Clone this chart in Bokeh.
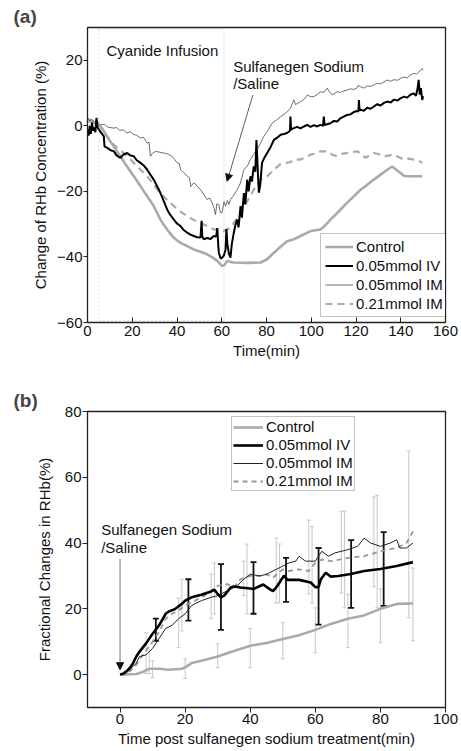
from bokeh.plotting import figure
from bokeh.models import (ColumnDataSource, Legend, LegendItem, Label, Arrow, NormalHead,
                          BoxAnnotation, Whisker, TeeHead, FixedTicker, Range1d, Title)
from bokeh.layouts import column
from bokeh.embed import file_html
from bokeh.resources import INLINE

FONT = "Liberation Sans"

# ---------------- Panel (a) data ----------------
ctrl_a_t = [0, 2, 4, 5.8, 7.2, 8.7, 10.2, 11.8, 13.2, 14.7, 16.2, 17.7, 19.2, 20.7, 22.2, 23.7, 25.2, 26.7,
            28.2, 29.6, 31.1, 32.6, 34.1, 35.6, 37.1, 38.6, 40.1, 41.6, 44.6, 47.5, 50.5, 53.5, 56, 58, 60.2,
            61.2, 62.4, 63.8, 65.4, 71.4, 77.3, 80.3, 83.3, 86.3, 89.2, 92.2, 95.2, 99.7, 104.1, 105.6, 108.6,
            110.1, 113, 116, 119, 122, 125, 128, 131, 134, 136.2, 138, 139.9, 141.4, 142.9, 146, 149.6]
ctrl_a_v = [1.5, 1.2, 0.6, -0.2, -1.5, -3.2, -4.8, -6.3, -7.8, -9.3, -10.9, -12.4, -13.9, -15.4, -16.9, -18.4,
            -20, -21.5, -23, -24.5, -26.5, -28.6, -30.2, -31.6, -33, -34.1, -35, -35.7, -36.7, -37.7, -38.4,
            -39.2, -40.2, -41.2, -42.8, -42.5, -41.2, -41.5, -41.7, -41.8, -41.7, -40.7, -38.7, -36.9, -35.2,
            -34.6, -33.6, -32.1, -31.6, -30.8, -28.6, -27.6, -25.6, -23.5, -21.5, -19.5, -18, -16.4, -14.9,
            -13.4, -12.4, -13.4, -14.4, -15.2, -15.4, -15.4, -15.4]

iv_a_t = [0, 0.5, 1, 1.5, 2, 2.5, 3, 3.5, 4, 4.5, 5, 6, 7.3, 7.6, 9, 10.5, 11.8, 13, 14.7, 16, 17.7, 19, 20.7,
          22, 23.7, 25, 26.7, 28, 29.6, 31, 32.6, 34, 35.6, 37, 38.6, 40, 41.6, 43, 44.6, 46, 47.5, 49, 50.5,
          51, 51.3, 52, 53.5, 55, 56.4, 57.5, 58, 58.5, 58.7, 59.5, 60.2, 61, 61.7, 62.1, 62.5, 63.2, 63.9,
          64.5, 65.4, 66, 66.9, 67.5, 68.4, 69, 69.9, 70.5, 71.4, 72, 72.8, 73.5, 74.3, 75, 75.5, 76.2, 76.6,
          77.2, 78, 79, 80.3, 81.8, 83.3, 84.8, 86.3, 87.8, 89.2, 90.5, 90.7, 91, 92.2, 93.7, 95.2, 96.7, 98.2,
          99.7, 101.2, 102.7, 104.1, 105.3, 105.6, 106, 107.1, 108.6, 110.1, 111.6, 113, 114.5, 116, 117.5,
          119, 120.5, 121.1, 121.3, 121.6, 122, 123.5, 125, 126.5, 128, 129.5, 131, 132.5, 134, 135.5, 137,
          138.5, 139.9, 141.4, 142.9, 144.3, 145.8, 146.8, 147.5, 148, 148.5, 149, 149.6, 150]
iv_a_v = [-1, -3, 0, -2.5, 1, -1.5, -0.5, -2, 2.4, -0.5, -1, -2, -3.2, -6.3, -6.8, -7.5, -7.8, -9, -9.8, -8.8,
          -8.3, -9, -9.3, -10.5, -11.3, -12, -13.4, -14.8, -16.4, -18.3, -20.5, -22.8, -25.5, -27.2, -28.6,
          -29.8, -30.6, -31.8, -32.6, -33.2, -33.6, -34, -34.1, -29, -33.8, -34.6, -34.2, -34.5, -33.6, -33.8,
          -31.2, -37, -38.7, -40.5, -40.2, -39.5, -37.7, -31.5, -36, -39, -40.2, -36, -32.6, -30.5, -28.6, -31,
          -24.5, -28, -20.5, -24, -16.4, -20, -15.4, -17, -12.4, -14, -4.3, -15, -20.4, -18, -11.3, -9.8, -8.3,
          -6.5, -4.3, -3.6, -2.7, -2.5, -2.2, -1.5, 2.8, -1.2, -0.7, -0.3, -0.8, -0.2, 0.3, -0.3, 0.2, -0.2,
          0.3, 0, 2.8, 0.2, 0.5, 0.8, 1.5, 1.3, 2.3, 2.8, 3.3, 3.5, 4.2, 4.5, 4.4, 7.9, 4.7, 4.9, 4.6, 5.5, 5.2,
          5.9, 6.6, 6.2, 7.0, 7.4, 7.1, 8.0, 7.7, 8.4, 8.9, 8.6, 9.5, 9.9, 9.2, 11.3, 14, 9.5, 11.5, 7.9, 9]

im_a_t = [0, 1, 2, 3, 4, 5.8, 7.5, 9, 11.8, 13, 14.5, 16, 17.7, 19, 20.5, 22, 23.7, 25, 26.7, 27.5, 28.1, 29,
          30.4, 32, 34.1, 36, 37.8, 39, 40.1, 41, 41.6, 43, 44.6, 45.5, 46.2, 47.5, 49, 50.5, 52, 53.5, 54.5,
          55.7, 56.5, 57.2, 57.8, 58.7, 59.4, 60.2, 61, 61.7, 62.5, 63.2, 63.9, 65, 66.9, 68.3, 69.9, 71.5,
          72.8, 74.2, 75.8, 77.3, 78.8, 80.5, 82.5, 84.5, 86.3, 88.5, 90.7, 92.2, 93, 95.2, 96.7, 98.2, 99.7,
          101.2, 102.7, 104.1, 105.6, 107.1, 108.3, 109.4, 110.5, 111.6, 113, 114.5, 116, 117.5, 119, 120.5,
          121, 122, 123.5, 125, 126.5, 128, 129.5, 131, 132.5, 134, 135.5, 137, 138.5, 139.9, 141.4, 142.9,
          144.3, 145.8, 147, 148.5, 149.6, 150]
im_a_v = [2.3, 1.5, 2, 1.2, 1.5, 0.3, 0.5, -0.4, -0.7, -0.5, -1.4, -1.2, -2.2, -1.8, -2.6, -2.9, -3.7, -3.5,
          -5.3, -5.0, -9.3, -8.4, -7.8, -8.0, -8.3, -8.6, -9.3, -10.3, -11.3, -11.5, -13.4, -14.2, -15.4,
          -15.8, -18.5, -17.4, -18.3, -19.5, -21, -22.5, -22, -23.5, -25, -27.1, -23.8, -24, -26.5, -26.4,
          -23.2, -24.5, -22.8, -24, -22.5, -21.5, -19.5, -17.5, -13.4, -12.2, -10.3, -8.7, -7.3, -5.3, -3.2,
          -1.5, 0.8, 1.8, 2.8, 3.8, 5.4, 7.9, 6.5, 7.4, 8.0, 9.4, 8.9, 8.9, 9.6, 10.4, 10.2, 11.5, 10.3, 9.4,
          9.9, 10.4, 10.2, 10.6, 10.9, 11.3, 11.1, 11.6, 12.4, 11.9, 11.5, 12.2, 12.0, 12.5, 13.0, 12.8, 13.4,
          14, 13.6, 14.1, 13.9, 14.5, 14.9, 14.6, 15.5, 16, 15.8, 16.7, 17.5, 17]

hi_a_t = [0, 2, 4, 5.8, 8.7, 11.8, 14, 16.2, 18.5, 20.7, 23.7, 26.7, 29.6, 32.6, 35.6, 38.6, 41.6, 44.6, 47.5,
          50.5, 53.5, 56.4, 60.9, 63.9, 66, 68.4, 71.4, 74.3, 77.3, 80.3, 83.3, 86.3, 88.5, 90.7, 92.2, 95.2,
          98.2, 99.7, 102.7, 104.1, 107.1, 109.4, 111.6, 114, 116, 118, 120.5, 122.5, 124.3, 126, 128, 130,
          132.5, 135, 137, 139, 141.4, 143.5, 145.8, 148, 149.6]
hi_a_v = [2.3, 1.5, 0.8, -0.2, -3.2, -5.8, -7.2, -8.3, -9.8, -11.3, -13.4, -15.4, -18, -20.5, -22.6, -24.5,
          -26.2, -27.6, -28.7, -29.6, -30.6, -31.6, -32.1, -31.1, -29, -26.6, -23, -19.5, -16.4, -15.4, -13.4,
          -11.6, -11.3, -11.1, -10.3, -10.3, -9.3, -8.8, -8.3, -7.8, -7.8, -8.8, -9.3, -8.5, -8.3, -8.0, -7.8,
          -8.5, -9.8, -9.0, -8.3, -8.6, -9.3, -9.0, -8.8, -9.5, -10.3, -10.0, -10.3, -10.6, -11.3]

xticks_a = [0, 20, 40, 60, 80, 100, 120, 140, 160]
yticks_a = [-60, -40, -20, 0, 20]

# ---------------- Panel (b) data ----------------
ctrl_b_t = [0, 5, 7, 9, 12, 15, 19, 20, 22, 25, 30, 35, 40, 45, 50, 55, 60, 65, 70, 75, 80, 85, 90]
ctrl_b_v = [0, 0.2, 0.8, 1.8, 1.8, 1.5, 1.8, 2.2, 3.5, 4.2, 5.5, 7.2, 8.8, 9.6, 10.8, 12, 13.6, 15.5, 17, 18,
            20, 21.5, 21.6]

iv_b_t = [0, 1, 2, 3, 4, 5, 6, 8, 10, 12, 14, 15, 17, 19, 20, 22, 25, 28, 29, 30, 31, 32, 34, 35, 37, 40, 41,
          42, 44, 46, 47, 48, 49.4, 50.4, 51.4, 52, 55, 58.6, 60, 61, 61.7, 63.2, 64.7, 67, 70.9, 75, 80, 85,
          90]
iv_b_v = [0, 0.3, 1, 2, 3.5, 5.5, 7, 9.5, 12.4, 15, 18.5, 19.2, 20, 21.5, 22.5, 23.5, 24.3, 25.3, 25.8, 24.5,
          23.5, 24, 26.5, 26.8, 26.5, 26.2, 26, 26.5, 27.4, 26, 25.4, 26.5, 28.6, 30.1, 28.8, 28.8, 28.8, 28,
          26.6, 26.6, 29, 31, 29.8, 30, 30.6, 31.5, 32.1, 33, 34.2]

im_b_t = [0, 3, 5, 6, 8, 10, 12, 14, 16, 18, 20, 22, 25, 28, 30, 33, 36, 38, 40, 43, 45, 48, 50, 52, 54, 55,
          57, 60, 62, 64, 66, 70, 73, 75, 77, 80, 83, 85, 86, 88, 90]
im_b_v = [0, 1.5, 3.5, 5.5, 6, 8, 11, 14, 15, 17, 18.5, 21, 22.5, 23.5, 24, 25.5, 27, 29, 30.5, 30, 30.5, 32,
          33, 34, 34.5, 36, 34.5, 34.5, 37.5, 36, 37, 38, 39, 41.5, 40, 39, 40, 41, 38.5, 38.5, 40]

hi_b_t = [0, 3, 5, 7, 10, 12, 14, 16, 18, 20, 23, 26, 30, 33, 35, 37, 40, 43, 45, 47, 50, 52, 55, 58, 60, 62,
          65, 70, 75, 80, 85, 88, 90]
hi_b_v = [0, 1, 3, 6, 10, 13, 17, 18.5, 19.5, 21, 22.5, 24, 27, 27.5, 26.5, 29, 30, 30, 30.5, 29.5, 32, 31.5,
          32, 31.5, 34, 35, 34.5, 35.5, 36, 37.5, 38.5, 40, 43.5]

# error bars (panel b)
ctrl_err_t = [10, 20, 30, 40, 50, 60, 70, 80, 90]
ctrl_err_hi = [4.2, 4.8, 9.4, 14, 15.8, 20.3, 24.5, 26, 32.4]
ctrl_err_lo = [-0.9, -1.2, 2.1, 2.1, 4.8, 6.7, 8.2, 9.7, 10.3]

iv_err_t = [11, 21, 31, 41, 51, 61, 71, 81]
iv_err_hi = [17, 29, 33.6, 34.2, 35.5, 38.5, 40.9, 43.3]
iv_err_lo = [10.3, 16.4, 13.6, 18.5, 22.1, 15.2, 20.3, 20.9]

im_err_t = [8, 18, 28, 38, 48, 58, 68, 78, 88.7]
im_err_hi = [12.7, 23.3, 30.6, 34.5, 41.5, 47, 49.7, 54, 68]
im_err_lo = [0.3, 8.2, 17, 24, 21.8, 24.5, 24.8, 26.7, 17.3]

hi_err_t = [9, 19, 29, 39, 49, 59, 69, 79]
hi_err_hi = [7.3, 29, 34, 39.7, 39.7, 45, 49.7, 54.5]
hi_err_lo = [0.3, 13.3, 18.5, 18.5, 21.8, 21.8, 20.3, 20.3]

xticks_b = [0, 20, 40, 60, 80, 100]
yticks_b = [0, 20, 40, 60, 80]

labels = ["Control", "0.05mmol IV", "0.05mmol IM", "0.21mmol IM"]


def style(p, x_in, ylab_standoff):
    p.outline_line_color = "#222222"
    p.outline_line_width = 1.3
    p.xgrid.visible = False
    p.ygrid.visible = False
    for ax in (p.xaxis[0], p.yaxis[0]):
        ax.axis_line_color = "#222222"
        ax.major_tick_line_color = "#222222"
        ax.minor_tick_line_color = None
        ax.major_label_text_font = FONT
        ax.major_label_text_font_size = "15px"
        ax.major_label_text_color = "#111111"
        ax.axis_label_text_font = FONT
        ax.axis_label_text_font_size = "15px"
        ax.axis_label_text_font_style = "normal"
        ax.axis_label_text_color = "#111111"
    if x_in:
        p.xaxis[0].major_tick_in = 5
        p.xaxis[0].major_tick_out = 0
        p.xaxis[0].major_label_standoff = 3
    else:
        p.xaxis[0].major_tick_in = 0
        p.xaxis[0].major_tick_out = 5
        p.xaxis[0].major_label_standoff = 1
    p.xaxis[0].axis_label_standoff = 3
    p.yaxis[0].major_tick_in = 0
    p.yaxis[0].major_tick_out = 4
    p.yaxis[0].major_label_standoff = 1
    p.yaxis[0].axis_label_standoff = ylab_standoff


# ---------------- Figure (a) ----------------
pa = figure(width=461, height=380, output_backend="svg", toolbar_location=None,
            x_range=Range1d(0, 160), y_range=Range1d(-60, 30),
            min_border_left=87, min_border_right=16, min_border_top=27, min_border_bottom=58,
            x_axis_label="Time(min)", y_axis_label="Change of RHb Concentration (%)")
pa.title = Title(text="(a)", text_font=FONT, text_font_size="19px", text_font_style="bold",
                 align="left", offset=-74, standoff=1)
style(pa, True, 5)
pa.xaxis[0].ticker = FixedTicker(ticks=xticks_a)
pa.yaxis[0].ticker = FixedTicker(ticks=yticks_a)

pa.add_layout(BoxAnnotation(left=5, right=61, top=29.5, bottom=-59.5, fill_alpha=0,
                            line_color="#888888", line_width=1, line_dash="2 2"))

ra_ctrl = pa.line(ctrl_a_t, ctrl_a_v, line_color="#aaaaaa", line_width=2.6)
ra_hi = pa.line(hi_a_t, hi_a_v, line_color="#aaaaaa", line_width=2.2, line_dash="7 5")
ra_im = pa.line(im_a_t, im_a_v, line_color="#4a4a4a", line_width=0.8)
ra_iv = pa.line(iv_a_t, iv_a_v, line_color="#000000", line_width=2.0)

pa.add_layout(Label(x=8.5, y=23.1, text="Cyanide Infusion", text_font=FONT, text_font_size="15px",
                    text_color="#111111", text_baseline="alphabetic"))
pa.add_layout(Label(x=65.1, y=18.0, text="Sulfanegen Sodium", text_font=FONT, text_font_size="15px",
                    text_color="#111111", text_baseline="alphabetic"))
pa.add_layout(Label(x=65.1, y=12.8, text="/Saline", text_font=FONT, text_font_size="15px",
                    text_color="#111111", text_baseline="alphabetic"))
pa.add_layout(Arrow(end=NormalHead(size=7, fill_color="#111111", line_color="#111111"),
                    x_start=73.9, y_start=9.4, x_end=62.4, y_end=-16.9,
                    line_color="#333333", line_width=0.8))

leg_a = Legend(items=[LegendItem(label=labels[0], renderers=[ra_ctrl]),
                      LegendItem(label=labels[1], renderers=[ra_iv]),
                      LegendItem(label=labels[2], renderers=[ra_im]),
                      LegendItem(label=labels[3], renderers=[ra_hi])],
               location=(233, 5), label_text_font=FONT, label_text_font_size="15px",
               label_text_color="#111111", label_height=17, glyph_height=17, glyph_width=28,
               spacing=2, padding=4, label_standoff=3, margin=0,
               border_line_color="#888888", border_line_width=1.2, background_fill_alpha=1)
pa.add_layout(leg_a, "center")

# ---------------- Figure (b) ----------------
pb = figure(width=461, height=371, output_backend="svg", toolbar_location=None,
            x_range=Range1d(-10, 100), y_range=Range1d(-10, 80),
            min_border_left=87, min_border_right=16, min_border_top=31, min_border_bottom=44,
            x_axis_label="Time post sulfanegen sodium treatment(min)",
            y_axis_label="Fractional Changes in RHb(%)")
pb.title = Title(text="(b)", text_font=FONT, text_font_size="19px", text_font_style="bold",
                 align="left", offset=-74, standoff=1)
style(pb, False, 9)
pb.yaxis[0].major_tick_out = 5
pb.xaxis[0].ticker = FixedTicker(ticks=xticks_b)
pb.yaxis[0].ticker = FixedTicker(ticks=yticks_b)


def whiskers(p, t, hi, lo, color, width, head):
    src = ColumnDataSource(dict(t=t, hi=hi, lo=lo))
    w = Whisker(source=src, base="t", upper="hi", lower="lo", dimension="height",
                line_color=color, line_width=width,
                upper_head=TeeHead(size=head, line_color=color, line_width=width),
                lower_head=TeeHead(size=head, line_color=color, line_width=width))
    p.add_layout(w)


whiskers(pb, ctrl_err_t, ctrl_err_hi, ctrl_err_lo, "#c8c8c8", 1, 4)
whiskers(pb, im_err_t, im_err_hi, im_err_lo, "#c8c8c8", 1, 4)
whiskers(pb, hi_err_t, hi_err_hi, hi_err_lo, "#c8c8c8", 1, 4)

rb_ctrl = pb.line(ctrl_b_t, ctrl_b_v, line_color="#aaaaaa", line_width=2.6)
rb_hi = pb.line(hi_b_t, hi_b_v, line_color="#999999", line_width=1.8, line_dash="5 4")
rb_im = pb.line(im_b_t, im_b_v, line_color="#222222", line_width=1.0)
rb_iv = pb.line(iv_b_t, iv_b_v, line_color="#000000", line_width=2.6)

whiskers(pb, iv_err_t, iv_err_hi, iv_err_lo, "#111111", 1.8, 6)

pb.add_layout(Label(x=-5.8, y=44, text="Sulfanegen Sodium", text_font=FONT, text_font_size="15px",
                    text_color="#111111", text_baseline="alphabetic"))
pb.add_layout(Label(x=-5.8, y=38.8, text="/Saline", text_font=FONT, text_font_size="15px",
                    text_color="#111111", text_baseline="alphabetic"))
pb.add_layout(Arrow(end=NormalHead(size=7, fill_color="#111111", line_color="#111111"),
                    x_start=0, y_start=35.2, x_end=0, y_end=1.5,
                    line_color="#555555", line_width=0.8))

leg_b = Legend(items=[LegendItem(label=labels[0], renderers=[rb_ctrl]),
                      LegendItem(label=labels[1], renderers=[rb_iv]),
                      LegendItem(label=labels[2], renderers=[rb_im]),
                      LegendItem(label=labels[3], renderers=[rb_hi])],
               location=(144, 216), label_text_font=FONT, label_text_font_size="15px",
               label_text_color="#111111", label_height=16, glyph_height=16, glyph_width=30,
               spacing=1, padding=1, label_standoff=3, margin=0,
               border_line_color="#888888", border_line_width=1.2, background_fill_alpha=1)
pb.add_layout(leg_b, "center")

layout = column(pa, pb, spacing=0)
open("out.html", "w").write(file_html(layout, INLINE))
